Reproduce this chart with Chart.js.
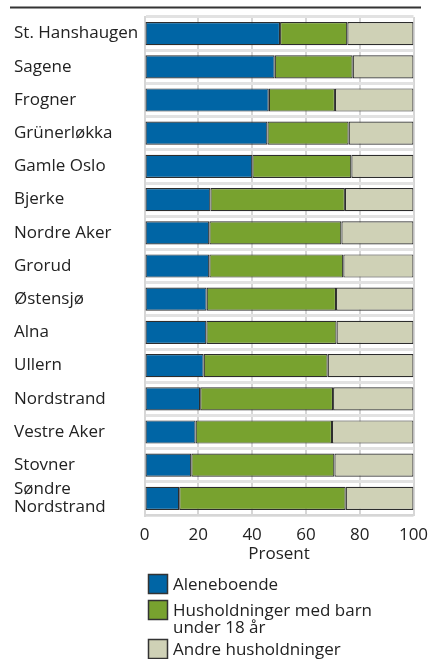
<!DOCTYPE html>
<html>
<head>
<meta charset="utf-8">
<script src="https://cdn.jsdelivr.net/npm/chart.js@4"></script>
<style>
  html, body { margin: 0; padding: 0; background: #fff; }
  #wrap { width: 431px; height: 659px; }
</style>
</head>
<body>
<div id="wrap"><canvas id="graph" width="431" height="659"></canvas></div>
<script>
const bydeler = ['St. Hanshaugen', 'Sagene', 'Frogner', 'Grünerløkka', 'Gamle Oslo', 'Bjerke', 'Nordre Aker',
  'Grorud', 'Østensjø', 'Alna', 'Ullern', 'Nordstrand', 'Vestre Aker', 'Stovner', ['Søndre', 'Nordstrand']];
const aleneboende = [50.4, 48.4, 46.2, 45.7, 40.1, 24.5, 24.1, 24.1, 23.1, 23.0, 22.0, 20.7, 19.0, 17.4, 12.9];
const medBarn = [25.0, 29.0, 24.6, 30.2, 36.8, 50.0, 49.1, 49.8, 48.1, 48.4, 46.1, 49.4, 50.7, 53.2, 61.9];
const andre = [24.6, 22.6, 29.2, 24.1, 23.1, 25.5, 26.8, 26.1, 28.8, 28.6, 31.9, 29.9, 30.3, 29.4, 25.2];
const seriesNames = ['Aleneboende', ['Husholdninger med barn', 'under 18 år'], 'Andre husholdninger'];
const xTicks = [0, 20, 40, 60, 80, 100];

const font = 'Open Sans';
const ctx = document.getElementById('graph').getContext('2d');

// top rule + vertical legend drawn on the canvas
const extras = {
    id: 'extras',
    afterDraw(chart) {
        const c = chart.ctx;
        c.save();
        c.strokeStyle = '#333';
        c.lineWidth = 2;
        c.beginPath();
        c.moveTo(10, 7.5);
        c.lineTo(421, 7.5);
        c.stroke();

        c.font = '17px "' + font + '"';
        c.textBaseline = 'middle';
        let y = 574;
        chart.data.datasets.forEach(ds => {
            c.fillStyle = ds.backgroundColor;
            c.fillRect(148, y, 20, 20);
            c.strokeStyle = '#333';
            c.lineWidth = 1.5;
            c.strokeRect(148.5, y + 0.5, 19, 19);
            c.fillStyle = '#222';
            const lines = Array.isArray(ds.label) ? ds.label : [ds.label];
            lines.forEach((t, i) => c.fillText(t, 173, y + 11 + i * 17));
            y += 20 + 6 + (lines.length - 1) * 13;
        });
        c.restore();
    }
};

const colors = ['#0065a5', '#78a22f', '#cfd1b6'];
const values = [aleneboende, medBarn, andre];

new Chart(ctx, {
    type: 'bar',
    data: {
        labels: bydeler,
        datasets: values.map((v, i) => ({
            label: seriesNames[i],
            data: v,
            backgroundColor: colors[i],
            borderColor: '#2d2d2d',
            borderWidth: 1.2,
            borderSkipped: false,
            categoryPercentage: 1,
            barPercentage: 0.7
        }))
    },
    options: {
        indexAxis: 'y',
        responsive: false,
        animation: false,
        layout: { padding: { left: 14, right: 17.5, top: 17, bottom: 95 } },
        plugins: {
            legend: { display: false },
            tooltip: { enabled: false }
        },
        scales: {
            x: {
                stacked: true,
                min: 0,
                max: 100,
                afterBuildTicks: s => { s.ticks = xTicks.map(v => ({ value: v })); },
                afterFit: s => { s.height = 49; s.paddingLeft = 0; s.paddingRight = 0; },
                grid: { color: '#d6d6d6', lineWidth: 2, drawTicks: false },
                border: { color: '#d6d6d6', width: 2 },
                ticks: { color: '#222', font: { family: font, size: 17 }, padding: 10 },
                title: { display: true, text: 'Prosent', color: '#222', font: { family: font, size: 17 }, padding: 0 }
            },
            y: {
                stacked: true,
                afterFit: s => { s.width = 130.5; s.paddingTop = 0; s.paddingBottom = 0; },
                grid: { color: '#e2e2e2', lineWidth: 3, drawTicks: false, offset: true },
                border: { color: '#d6d6d6', width: 2 },
                ticks: { color: '#222', autoSkip: false, crossAlign: 'far', padding: 6, font: { family: font, size: 17, lineHeight: 1.08 } }
            }
        }
    },
    plugins: [extras]
});
</script>
</body>
</html>
